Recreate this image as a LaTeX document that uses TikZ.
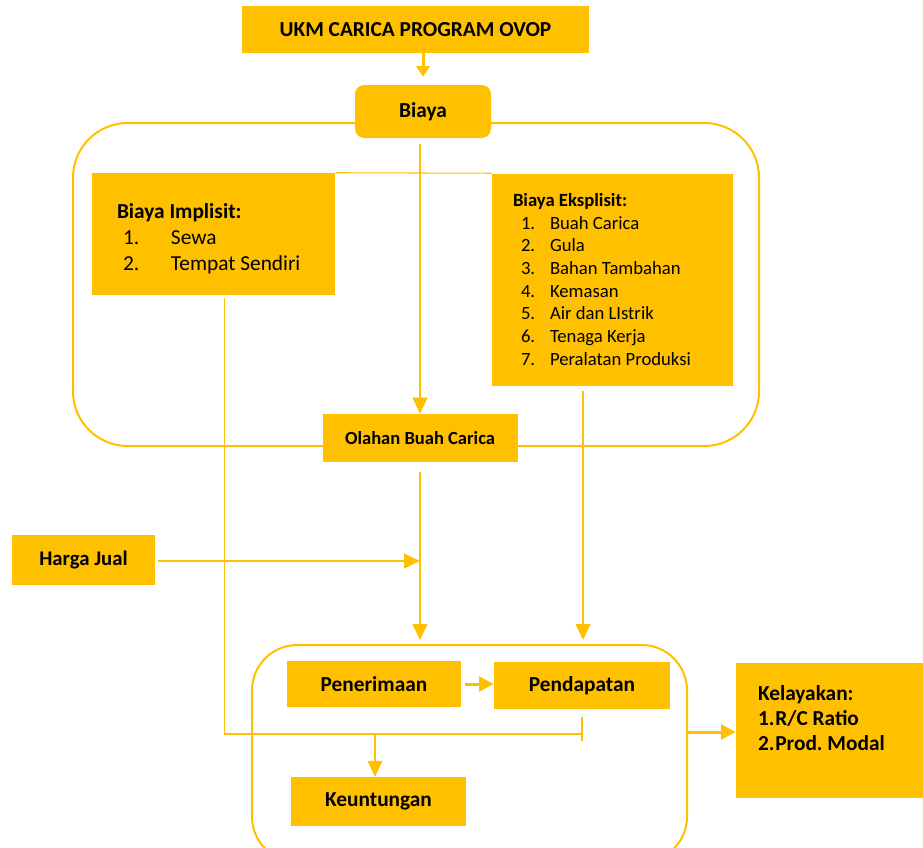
\documentclass[tikz,border=0pt]{standalone}
\usepackage{fontspec}
\setmainfont{Carlito}
\usetikzlibrary{arrows.meta}
\definecolor{emas}{HTML}{FFC000}
\frenchspacing

\begin{document}
\begin{tikzpicture}[x=0.75pt, y=-0.75pt,
        kotak/.style={rectangle, fill=emas, inner sep=0pt},
        daftar/.style={kotak, align=flush left},
        panah/.style={draw=emas, line width=1.5pt, -{Triangle[length=12pt,width=11pt]}},
        tebal/.style={draw=emas, line width=2.25pt, -{Triangle[length=11pt,width=11pt]}},
        tipis/.style={draw=emas, line width=0.8pt},
        grup/.style={draw=emas, line width=1.5pt}]
        \useasboundingbox (0,0) rectangle (923,847);

        % kelompok
        \draw[grup, rounded corners=41pt] (73,123) rectangle (759,446);
        \draw[grup, rounded corners=34pt] (252,645) rectangle (687,862);

        \node (judul) [kotak, minimum width=260.25pt, minimum height=35.25pt, font=\bfseries\fontsize{16}{19}\selectfont] at (415.5,29.5) {UKM CARICA PROGRAM OVOP};
        \node (biaya) [kotak, rounded corners=7pt, minimum width=102pt, minimum height=39.75pt, font=\bfseries\fontsize{16}{19}\selectfont] at (423,111.5) {Biaya};
        \node (implisit) [daftar, minimum width=182.25pt, minimum height=91.5pt, text width=144.75pt, inner xsep=18.75pt, font=\fontsize{16}{19.5}\selectfont] at (213.5,234)
            {\rule{0pt}{18pt}\textbf{Biaya Implisit:}\\
             \hspace*{4.5pt}\makebox[36pt][l]{1.}Sewa\\
             \hspace*{4.5pt}\makebox[36pt][l]{2.}Tempat Sendiri};
        \node (eksplisit) [daftar, minimum width=180.75pt, minimum height=159pt, text width=149.25pt, inner xsep=15.75pt, font=\fontsize{14}{17}\selectfont] at (612.5,279.5)
            {\textbf{Biaya Eksplisit:}\\
             \hspace*{6pt}\makebox[21.75pt][l]{1.}Buah Carica\\
             \hspace*{6pt}\makebox[21.75pt][l]{2.}Gula\\
             \hspace*{6pt}\makebox[21.75pt][l]{3.}Bahan Tambahan\\
             \hspace*{6pt}\makebox[21.75pt][l]{4.}Kemasan\\
             \hspace*{6pt}\makebox[21.75pt][l]{5.}Air dan LIstrik\\
             \hspace*{6pt}\makebox[21.75pt][l]{6.}Tenaga Kerja\\
             \hspace*{6pt}\makebox[21.75pt][l]{7.}Peralatan Produksi};
        \node (olahan) [kotak, minimum width=146.25pt, minimum height=36pt, font=\bfseries\fontsize{13.9}{16.5}\selectfont] at (420,438) {Olahan Buah Carica};
        \node (harga) [kotak, minimum width=107.25pt, minimum height=37.5pt, font=\bfseries\fontsize{15.6}{18.5}\selectfont] at (83.5,560) {Harga Jual};
        \node (penerimaan) [kotak, minimum width=130.5pt, minimum height=34.5pt, font=\bfseries\fontsize{16}{19}\selectfont] at (374,684) {Penerimaan};
        \node (pendapatan) [kotak, minimum width=132pt, minimum height=35.25pt, font=\bfseries\fontsize{16}{19}\selectfont] at (582,685.5) {Pendapatan};
        \node (keuntungan) [kotak, minimum width=131.25pt, minimum height=36.75pt, font=\bfseries\fontsize{16}{19}\selectfont] at (378.5,801.5) {Keuntungan};
        \node (kelayakan) [daftar, minimum width=140.25pt, minimum height=101.25pt, text width=107.25pt, inner xsep=16.5pt, font=\bfseries\fontsize{16}{19}\selectfont] at (829.5,730.5)
            {Kelayakan:\\
             \makebox[13pt][l]{1.}R/C Ratio\\
             \makebox[13pt][l]{2.}Prod. Modal\\
             \mbox{}};

        \coordinate (masuk1) at (420,640);
        \coordinate (jual) at (420,561);
        \coordinate (masuk2) at (583,640);
        \coordinate (sambung) at (583,734);
        \coordinate (cabang) at (375,734);
        \coordinate (keluar) at (688,732);

        \draw[tebal, -{Triangle[length=8pt,width=10pt]}, shorten >=6pt] (judul.south -| biaya.north) -- (biaya.north);
        \draw[tipis] (implisit.north east) -- (eksplisit.north west);
        \draw[panah, shorten <=4pt] (biaya.south -| olahan.north) -- (olahan.north);
        \draw[panah, shorten <=7pt] (olahan.south) -- (masuk1);
        \draw[panah, shorten <=2pt] (harga.east |- jual) -- (jual);
        \draw[panah, shorten <=4pt] (eksplisit.south -| masuk2) -- (masuk2);
        \draw[tipis] ([xshift=8pt,yshift=-2pt]implisit.south) |- (sambung);
        \draw[tipis] ([yshift=-6pt]pendapatan.south) -- ++(0,24);
        \draw[panah] (cabang) -- (cabang |- keuntungan.north);
        \draw[tebal, shorten <=3pt] (penerimaan.east) -- (penerimaan.east -| pendapatan.west);
        \draw[tebal] (keluar) -- (keluar -| kelayakan.west);
    \end{tikzpicture}
\end{document}
